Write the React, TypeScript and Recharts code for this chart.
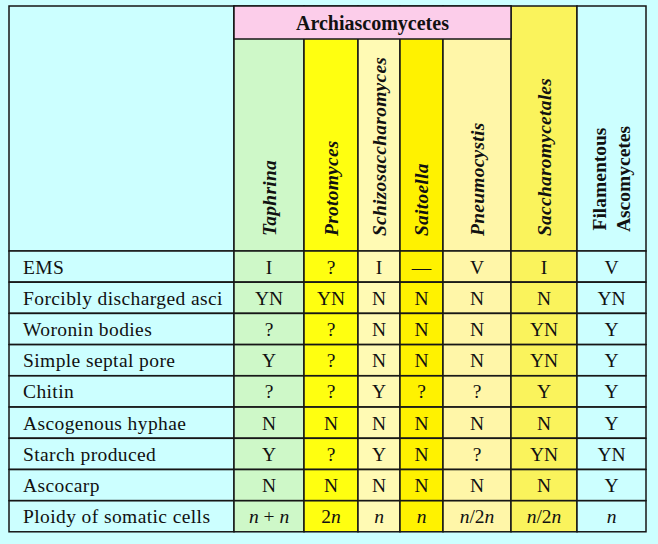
import React from "react";
import { BarChart, Bar, XAxis, YAxis } from "recharts";

const groupLabel = "Archiascomycetes";

const features = [
  "EMS",
  "Forcibly discharged asci",
  "Woronin bodies",
  "Simple septal pore",
  "Chitin",
  "Ascogenous hyphae",
  "Starch produced",
  "Ascocarp",
  "Ploidy of somatic cells",
];

const taxa = [
  "Taphrina",
  "Protomyces",
  "Schizosaccharomyces",
  "Saitoella",
  "Pneumocystis",
  "Saccharomycetales",
  "Filamentous Ascomycetes",
];

const taphrina = ["I", "YN", "?", "Y", "?", "N", "Y", "N", "n + n"];
const protomyces = ["?", "YN", "?", "?", "?", "N", "?", "N", "2n"];
const schizosaccharomyces = ["I", "N", "N", "N", "Y", "N", "Y", "N", "n"];
const saitoella = ["—", "N", "N", "N", "?", "N", "N", "N", "n"];
const pneumocystis = ["V", "N", "N", "N", "?", "N", "?", "N", "n/2n"];
const saccharomycetales = ["I", "N", "YN", "YN", "Y", "N", "YN", "N", "n/2n"];
const filamentous = ["V", "YN", "Y", "Y", "Y", "Y", "YN", "Y", "n"];

const columns = [
  taphrina,
  protomyces,
  schizosaccharomyces,
  saitoella,
  pneumocystis,
  saccharomycetales,
  filamentous,
];

// layout
const COL_W = [225, 70, 54, 42, 43, 68, 66, 69];
const TOTAL = COL_W.reduce((a, b) => a + b, 0);
const COL_FILL = [
  "#ccffff",
  "#cef8c8",
  "#ffff10",
  "#fffab4",
  "#fff200",
  "#fff6a8",
  "#faf35c",
  "#ccffff",
];
const LINE = "#161616";
const FONT = '"Liberation Serif", "Times New Roman", serif';
const M = 2;

const widthFields = () => {
  const o: Record<string, number> = {};
  COL_W.forEach((w, i) => (o[`w${i}`] = w));
  return o;
};

const bodyData = features.map((f, r) => ({
  feature: f,
  texts: [f, ...columns.map((c) => c[r])],
  ...widthFields(),
}));

const headData = [{ feature: "head", texts: ["", ...taxa], ...widthFields() }];

const groupData = [
  {
    feature: "group",
    pad: COL_W[0],
    span: COL_W.slice(1, 6).reduce((a, b) => a + b, 0),
    rest: COL_W.slice(6).reduce((a, b) => a + b, 0),
  },
];

function renderValue(s: string) {
  return s
    .split(/(n)/)
    .filter(Boolean)
    .map((part, i) =>
      part === "n" ? (
        <tspan key={i} fontStyle="italic">
          n
        </tspan>
      ) : (
        <tspan key={i}>{part}</tspan>
      )
    );
}

function bodyCell(col: number) {
  return (p: any) => {
    const { x, y, width, height, payload } = p;
    const text: string = payload.texts[col];
    return (
      <g>
        <rect x={x} y={y} width={width} height={height} fill={COL_FILL[col]} stroke={LINE} strokeWidth={1.5} />
        <text
          x={col === 0 ? x + 14 : x + width / 2}
          y={y + height / 2 + 7}
          textAnchor={col === 0 ? "start" : "middle"}
          fontFamily={FONT}
          fontSize={19.5}
          letterSpacing={col === 0 ? 0.4 : 0}
          fill="#111"
          style={{ whiteSpace: "pre" }}
        >
          {col === 0 ? text : renderValue(text)}
        </text>
      </g>
    );
  };
}

function headCell(col: number) {
  return (p: any) => {
    const { x, y, width, height, payload } = p;
    const label: string = payload.texts[col];
    const cx = x + width / 2;
    let content: React.ReactNode = null;
    if (col === COL_W.length - 1) {
      const lines = label.split(" ");
      const ly = y + height - 72;
      content = lines.map((ln, i) => {
        const lx = cx + (i - (lines.length - 1) / 2) * 24;
        return (
          <text
            key={i}
            x={lx}
            y={ly}
            transform={`rotate(-90 ${lx} ${ly})`}
            textAnchor="middle"
            dominantBaseline="central"
            fontFamily={FONT}
            fontWeight="bold"
            fontSize={19.5}
            fill="#111"
          >
            {ln}
          </text>
        );
      });
    } else if (col > 0) {
      const ly = y + height - 15;
      content = (
        <text
          x={cx}
          y={ly}
          transform={`rotate(-90 ${cx} ${ly})`}
          textAnchor="start"
          dominantBaseline="central"
          fontFamily={FONT}
          fontStyle="italic"
          fontWeight="bold"
          fontSize={19.5}
          letterSpacing={0.25}
          fill="#111"
        >
          {label}
        </text>
      );
    }
    return (
      <g>
        <rect x={x} y={y} width={width} height={height} fill={COL_FILL[col]} stroke={LINE} strokeWidth={1.5} />
        {content}
      </g>
    );
  };
}

const groupCell = (p: any) => {
  const { x, y, width, height } = p;
  return (
    <g>
      <rect x={x} y={y} width={width} height={height} fill="#fccdea" stroke={LINE} strokeWidth={1.5} />
      <text
        x={x + width / 2}
        y={y + height / 2 + 7}
        textAnchor="middle"
        fontFamily={FONT}
        fontWeight="bold"
        fontSize={20}
        fill="#111"
      >
        {groupLabel}
      </text>
    </g>
  );
};

const empty = () => <g />;

const margin = { top: M, right: M, bottom: M, left: M };

export default function App() {
  return (
    <div style={page}>
      <div style={{ position: "absolute", left: 9 - M, top: 6 - M }}>
        <BarChart width={TOTAL + 2 * M} height={245 + 2 * M} data={headData} layout="vertical" margin={margin} barCategoryGap={0} barGap={0}>
          <XAxis type="number" hide domain={[0, TOTAL]} />
          <YAxis type="category" dataKey="feature" hide />
          {COL_W.map((_, i) => (
            <Bar key={i} dataKey={`w${i}`} stackId="h" isAnimationActive={false} shape={headCell(i)} />
          ))}
        </BarChart>
      </div>
      <div style={{ position: "absolute", left: 9 - M, top: 6 - M }}>
        <BarChart width={TOTAL + 2 * M} height={33 + 2 * M} data={groupData} layout="vertical" margin={margin} barCategoryGap={0} barGap={0}>
          <XAxis type="number" hide domain={[0, TOTAL]} />
          <YAxis type="category" dataKey="feature" hide />
          <Bar dataKey="pad" stackId="g" isAnimationActive={false} shape={empty} />
          <Bar dataKey="span" stackId="g" isAnimationActive={false} shape={groupCell} />
          <Bar dataKey="rest" stackId="g" isAnimationActive={false} shape={empty} />
        </BarChart>
      </div>
      <div style={{ position: "absolute", left: 9 - M, top: 251 - M }}>
        <BarChart width={TOTAL + 2 * M} height={281 + 2 * M} data={bodyData} layout="vertical" margin={margin} barCategoryGap={0} barGap={0}>
          <XAxis type="number" hide domain={[0, TOTAL]} />
          <YAxis type="category" dataKey="feature" hide />
          {COL_W.map((_, i) => (
            <Bar key={i} dataKey={`w${i}`} stackId="b" isAnimationActive={false} shape={bodyCell(i)} />
          ))}
        </BarChart>
      </div>
    </div>
  );
}

const page: React.CSSProperties = {
  position: "absolute",
  left: 0,
  top: 0,
  width: 658,
  height: 544,
  background: "#ccffff",
  overflow: "hidden",
};
